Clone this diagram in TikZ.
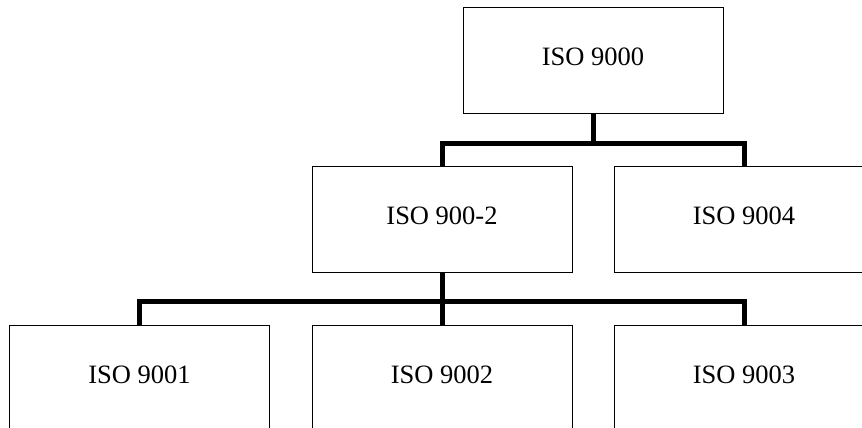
\documentclass[tikz,border=0pt]{standalone}
\usepackage{fontspec}
\setmainfont{Liberation Serif}
\usepackage{tikz}
\usetikzlibrary{positioning}

\tikzset{
  isobox/.style={draw, line width=1pt, minimum width=260pt, minimum height=106pt,
    inner sep=0pt, text height=18pt, text depth=8pt,
    font=\fontsize{26.5}{30}\selectfont},
  link/.style={line width=5pt, line join=miter},
}

\begin{document}
\begin{tikzpicture}[x=1pt, y=-1pt]
      \clip (0,0) rectangle (862,428);
      \node[isobox] (top) at (593,60.3) {ISO 9000};
      \node[isobox] (mid) at (442,219.5) {ISO 900-2};
      \node[isobox] (right) at (744,219.5) {ISO 9004};
      \node[isobox] (b1) at (139.5,378.7) {ISO 9001};
      \node[isobox] (b2) at (442,378.7) {ISO 9002};
      \node[isobox] (b3) at (744,378.7) {ISO 9003};
      % upper branch
      \coordinate (j1) at (593,143.3);
      \draw[link] (top.south) -- (j1) -| (mid.north);
      \draw[link] (j1) -| (right.north);
      % lower branch
      \coordinate (j2) at (442,301.7);
      \draw[link] (mid.south) -- (b2.north);
      \draw[link] (j2) -| (b1.north);
      \draw[link] (j2) -| (b3.north);
    \end{tikzpicture}
\end{document}
